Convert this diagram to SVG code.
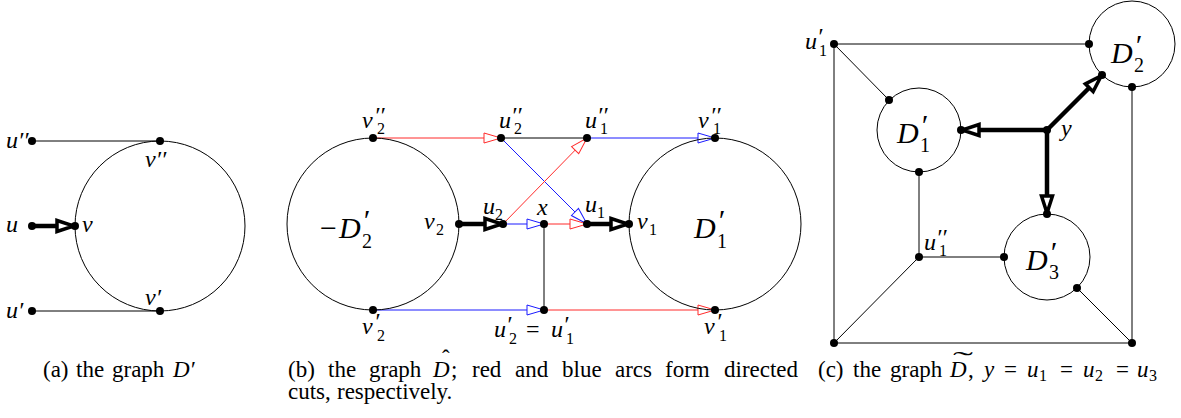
<svg xmlns="http://www.w3.org/2000/svg" width="1181" height="418" viewBox="0 0 1181 418">
<style>
.ln{stroke:#000;stroke-width:1;fill:none}
.red{stroke:#ff2a2a;stroke-width:1;fill:none}
.blue{stroke:#1a1aff;stroke-width:1;fill:none}
.thick{stroke:#000;stroke-width:4.5;fill:none}
.circ{stroke:#000;stroke-width:1;fill:none}
.dot{fill:#000}
.lbl{font-family:"Liberation Serif",serif;font-style:italic;font-size:24px;fill:#000}
.big{font-family:"Liberation Serif",serif;font-style:italic;font-size:30px;fill:#000}
.sub{font-style:normal;font-size:16px}
.bsub{font-style:normal;font-size:20px}
.up{font-style:normal}
.cap{font-family:"Liberation Serif",serif;font-size:23px;fill:#000}
.it{font-style:italic}
.csub{font-size:16px}
</style>
<defs>
<marker id="ar" viewBox="0 0 19 12" markerWidth="19" markerHeight="12" refX="18" refY="6" orient="auto" markerUnits="userSpaceOnUse"><path d="M1,1 L18,6 L1,11 Z" fill="#fff" stroke="#ff2a2a" stroke-width="1"/></marker>
<marker id="ab" viewBox="0 0 19 12" markerWidth="19" markerHeight="12" refX="18" refY="6" orient="auto" markerUnits="userSpaceOnUse"><path d="M1,1 L18,6 L1,11 Z" fill="#fff" stroke="#1a1aff" stroke-width="1"/></marker>
<marker id="ak" viewBox="0 0 22 16" markerWidth="22" markerHeight="16" refX="20" refY="8" orient="auto" markerUnits="userSpaceOnUse"><path d="M2,2.5 L19,8 L2,13.5 Z" fill="#fff" stroke="#000" stroke-width="3.5" stroke-linejoin="miter"/></marker>
</defs>

<g id="connectors">
<line class="ln" x1="32" y1="141" x2="160" y2="141"/>
<line class="ln" x1="32" y1="311" x2="160" y2="311"/>
<line class="thick" x1="32" y1="226" x2="75" y2="226" marker-end="url(#ak)"/>
<line class="red" x1="373" y1="138" x2="501" y2="138" marker-end="url(#ar)"/>
<line class="ln" x1="501" y1="138" x2="587" y2="138"/>
<line class="blue" x1="587" y1="138" x2="715" y2="138" marker-end="url(#ab)"/>
<line class="blue" x1="501" y1="138" x2="587" y2="224" marker-end="url(#ab)"/>
<line class="red" x1="503" y1="224" x2="587" y2="138" marker-end="url(#ar)"/>
<line class="thick" x1="459" y1="224" x2="503" y2="224" marker-end="url(#ak)"/>
<line class="blue" x1="503" y1="224" x2="544" y2="224" marker-end="url(#ab)"/>
<line class="red" x1="544" y1="224" x2="587" y2="224" marker-end="url(#ar)"/>
<line class="thick" x1="587" y1="224" x2="629" y2="224" marker-end="url(#ak)"/>
<line class="ln" x1="544" y1="224" x2="544" y2="310"/>
<line class="blue" x1="373" y1="310" x2="544" y2="310" marker-end="url(#ab)"/>
<line class="red" x1="544" y1="310" x2="715" y2="310" marker-end="url(#ar)"/>
<line class="ln" x1="834" y1="44" x2="1089" y2="44"/>
<line class="ln" x1="834" y1="44" x2="834" y2="343"/>
<line class="ln" x1="834" y1="343" x2="1132" y2="343"/>
<line class="ln" x1="1132" y1="87" x2="1132" y2="343"/>
<line class="ln" x1="834" y1="44" x2="889" y2="100"/>
<line class="ln" x1="919" y1="172" x2="919" y2="257"/>
<line class="ln" x1="919" y1="257" x2="1004" y2="257"/>
<line class="ln" x1="919" y1="257" x2="834" y2="343"/>
<line class="ln" x1="1077" y1="288" x2="1132" y2="343"/>
<line class="thick" x1="1047" y1="130" x2="961" y2="130" marker-end="url(#ak)"/>
<line class="thick" x1="1047" y1="130" x2="1102" y2="75" marker-end="url(#ak)"/>
<line class="thick" x1="1047" y1="130" x2="1047" y2="214" marker-end="url(#ak)"/>
</g>

<g id="a-Dprime"><circle class="circ" cx="160" cy="226" r="85"/></g>
<g id="a-u2"><circle class="dot" cx="32" cy="141" r="4"/><text class="lbl" x="6" y="148">u′′</text></g>
<g id="a-v2"><circle class="dot" cx="160" cy="141" r="4"/><text class="lbl" x="145" y="167">v′′</text></g>
<g id="a-u"><circle class="dot" cx="32" cy="226" r="4"/><text class="lbl" x="6" y="232">u</text></g>
<g id="a-v"><circle class="dot" cx="75" cy="226" r="4"/><text class="lbl" x="82" y="232">v</text></g>
<g id="a-u1"><circle class="dot" cx="32" cy="311" r="4"/><text class="lbl" x="6" y="318">u′</text></g>
<g id="a-v1"><circle class="dot" cx="160" cy="311" r="4"/><text class="lbl" x="145" y="305">v′</text></g>

<g id="b-negD2"><circle class="circ" cx="373" cy="224" r="86"/><text class="big"><tspan x="320" y="238" class="up">−</tspan><tspan x="339" y="238">D</tspan><tspan x="362" y="230">′</tspan><tspan class="bsub" x="362" y="248">2</tspan></text></g>
<g id="b-D1"><circle class="circ" cx="715" cy="224" r="86"/><text class="big"><tspan x="694" y="238">D</tspan><tspan x="717" y="230">′</tspan><tspan class="bsub" x="717" y="248">1</tspan></text></g>
<g id="b-v2pp"><circle class="dot" cx="373" cy="138" r="4"/><text class="lbl"><tspan x="362" y="128">v</tspan><tspan x="374" y="123">′′</tspan><tspan class="sub" x="377" y="134">2</tspan></text></g>
<g id="b-u2pp"><circle class="dot" cx="501" cy="138" r="4"/><text class="lbl"><tspan x="499" y="128">u</tspan><tspan x="511" y="123">′′</tspan><tspan class="sub" x="514" y="134">2</tspan></text></g>
<g id="b-u1pp"><circle class="dot" cx="587" cy="138" r="4"/><text class="lbl"><tspan x="585" y="128">u</tspan><tspan x="597" y="123">′′</tspan><tspan class="sub" x="600" y="134">1</tspan></text></g>
<g id="b-v1pp"><circle class="dot" cx="715" cy="138" r="4"/><text class="lbl"><tspan x="698" y="128">v</tspan><tspan x="710" y="123">′′</tspan><tspan class="sub" x="713" y="134">1</tspan></text></g>
<g id="b-v2"><circle class="dot" cx="459" cy="224" r="4"/><text class="lbl"><tspan x="424" y="229">v</tspan><tspan class="sub" x="436" y="235">2</tspan></text></g>
<g id="b-u2"><circle class="dot" cx="503" cy="224" r="4"/><text class="lbl"><tspan x="483" y="214">u</tspan><tspan class="sub" x="495" y="220">2</tspan></text></g>
<g id="b-x"><circle class="dot" cx="544" cy="224" r="4"/><text class="lbl" x="537" y="215">x</text></g>
<g id="b-u1"><circle class="dot" cx="587" cy="224" r="4"/><text class="lbl"><tspan x="585" y="212">u</tspan><tspan class="sub" x="597" y="218">1</tspan></text></g>
<g id="b-v1"><circle class="dot" cx="629" cy="224" r="4"/><text class="lbl"><tspan x="637" y="229">v</tspan><tspan class="sub" x="649" y="235">1</tspan></text></g>
<g id="b-v2p"><circle class="dot" cx="373" cy="310" r="4"/><text class="lbl"><tspan x="362" y="334">v</tspan><tspan x="374" y="329">′</tspan><tspan class="sub" x="377" y="341">2</tspan></text></g>
<g id="b-u2p"><circle class="dot" cx="544" cy="310" r="4"/><text class="lbl"><tspan x="494" y="337">u</tspan><tspan x="506" y="332">′</tspan><tspan class="sub" x="509" y="344">2</tspan><tspan class="up" x="526" y="337">=</tspan><tspan x="551" y="337">u</tspan><tspan x="563" y="332">′</tspan><tspan class="sub" x="566" y="344">1</tspan></text></g>
<g id="b-v1p"><circle class="dot" cx="715" cy="310" r="4"/><text class="lbl"><tspan x="704" y="334">v</tspan><tspan x="716" y="329">′</tspan><tspan class="sub" x="719" y="341">1</tspan></text></g>

<g id="c-D2"><circle class="circ" cx="1132" cy="44" r="43"/><circle class="dot" cx="1089" cy="44" r="4"/><circle class="dot" cx="1132" cy="87" r="4"/><circle class="dot" cx="1102" cy="75" r="4"/><text class="big"><tspan x="1111" y="63">D</tspan><tspan x="1134" y="55">′</tspan><tspan class="bsub" x="1134" y="72">2</tspan></text></g>
<g id="c-D1"><circle class="circ" cx="919" cy="130" r="42"/><circle class="dot" cx="889" cy="100" r="4"/><circle class="dot" cx="919" cy="172" r="4"/><circle class="dot" cx="961" cy="130" r="4"/><text class="big"><tspan x="897" y="143">D</tspan><tspan x="920" y="135">′</tspan><tspan class="bsub" x="920" y="152">1</tspan></text></g>
<g id="c-D3"><circle class="circ" cx="1047" cy="257" r="43"/><circle class="dot" cx="1047" cy="214" r="4"/><circle class="dot" cx="1004" cy="257" r="4"/><circle class="dot" cx="1077" cy="288" r="4"/><text class="big"><tspan x="1026" y="270">D</tspan><tspan x="1049" y="262">′</tspan><tspan class="bsub" x="1049" y="279">3</tspan></text></g>
<g id="c-y"><circle class="dot" cx="1047" cy="130" r="4"/><text class="lbl" x="1061" y="136">y</text></g>
<g id="c-u1p"><circle class="dot" cx="834" cy="44" r="4"/><text class="lbl"><tspan x="805" y="49">u</tspan><tspan x="817" y="44">′</tspan><tspan class="sub" x="819" y="56">1</tspan></text></g>
<g id="c-u1pp"><circle class="dot" cx="919" cy="257" r="4"/><text class="lbl"><tspan x="924" y="250">u</tspan><tspan x="936" y="245">′′</tspan><tspan class="sub" x="939" y="256">1</tspan></text></g>
<g id="c-bl"><circle class="dot" cx="834" cy="343" r="4"/></g>
<g id="c-br"><circle class="dot" cx="1132" cy="343" r="4"/></g>

<g id="captions">
<text class="cap"><tspan x="43" y="377">(a)</tspan><tspan x="76" y="377">the</tspan><tspan x="112" y="377">graph</tspan><tspan class="it" x="173" y="377">D′</tspan></text>
<text class="cap"><tspan x="288" y="377">(b)</tspan><tspan x="328" y="377">the</tspan><tspan x="369" y="377">graph</tspan><tspan class="it" x="433" y="377">D</tspan><tspan x="451" y="377">;</tspan><tspan x="472" y="377">red</tspan><tspan x="515" y="377">and</tspan><tspan x="562" y="377">blue</tspan><tspan x="615" y="377">arcs</tspan><tspan x="665" y="377">form</tspan><tspan x="724" y="377">directed</tspan></text>
<text class="cap" x="442" y="366">ˆ</text>
<text class="cap"><tspan x="288" y="399">cuts,</tspan><tspan x="337" y="399">respectively.</tspan></text>
<text class="cap"><tspan x="818" y="377">(c)</tspan><tspan x="853" y="377">the</tspan><tspan x="890" y="377">graph</tspan><tspan class="it" x="950" y="377">D</tspan><tspan x="968" y="377">,</tspan><tspan class="it" x="984" y="377">y</tspan><tspan x="1004" y="377">=</tspan><tspan class="it" x="1027" y="377">u</tspan><tspan class="csub" x="1039" y="381">1</tspan><tspan x="1060" y="377">=</tspan><tspan class="it" x="1083" y="377">u</tspan><tspan class="csub" x="1095" y="381">2</tspan><tspan x="1116" y="377">=</tspan><tspan class="it" x="1137" y="377">u</tspan><tspan class="csub" x="1149" y="381">3</tspan></text>
<text class="cap" x="953" y="368" textLength="20" lengthAdjust="spacingAndGlyphs">˜</text>
</g>
</svg>
